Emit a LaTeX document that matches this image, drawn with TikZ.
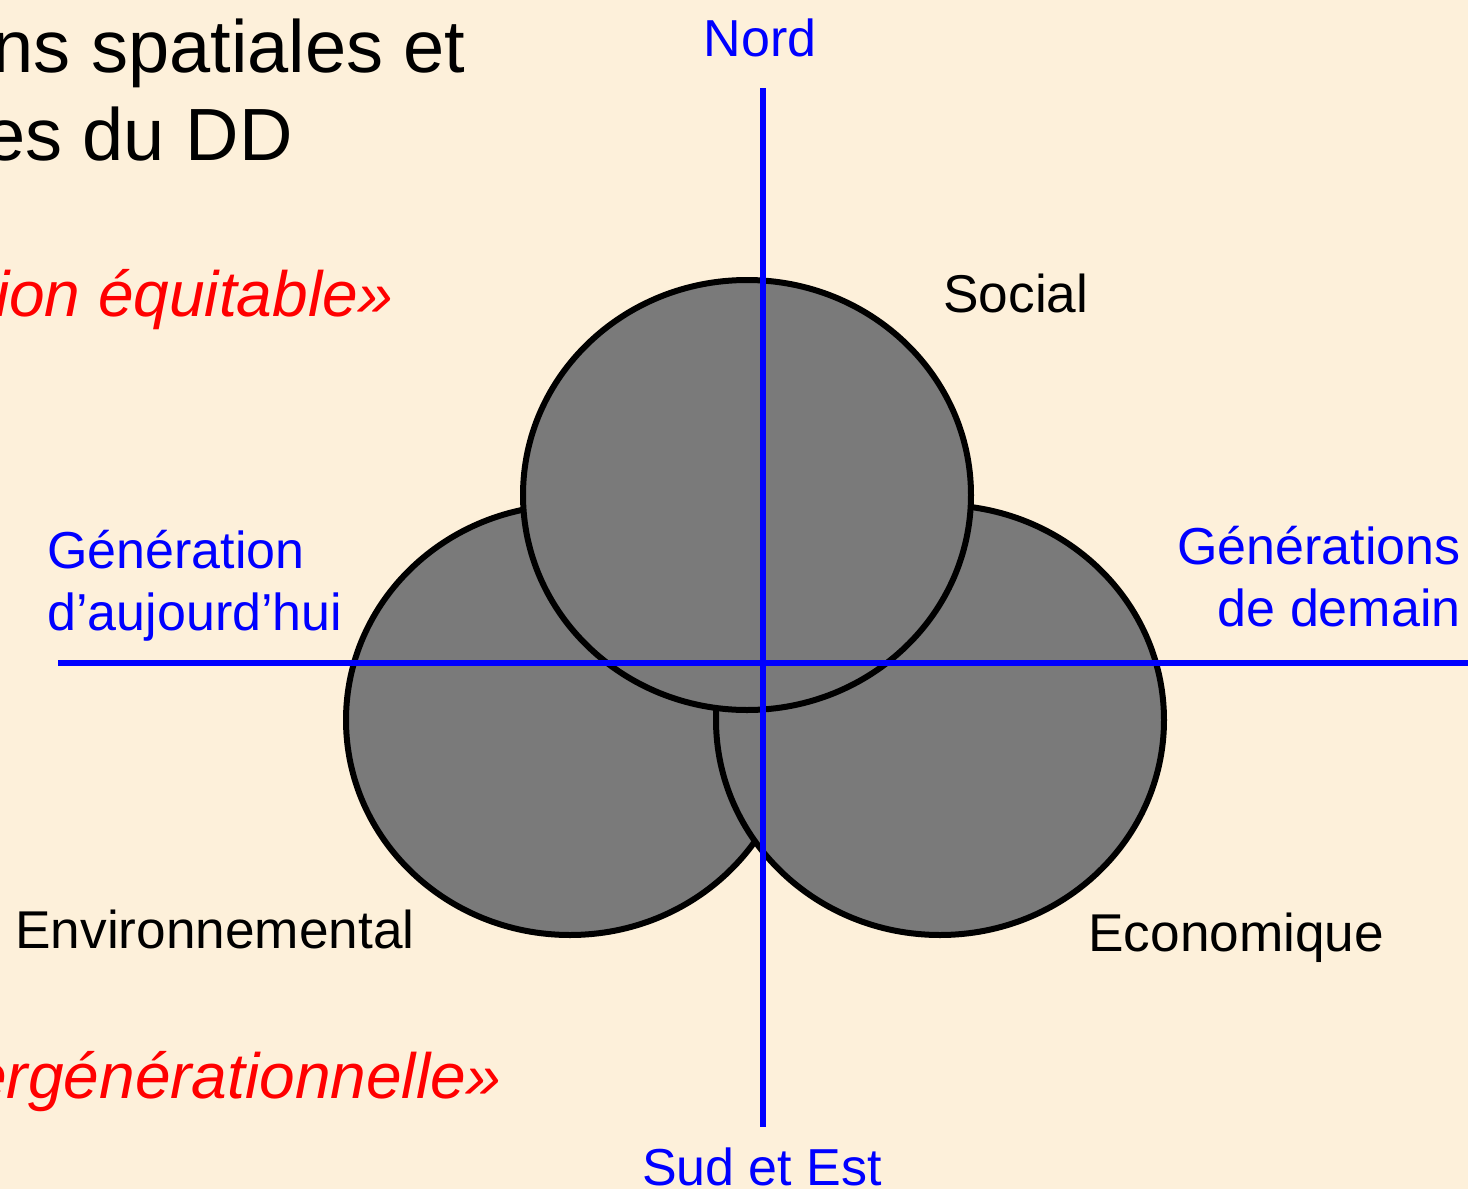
\documentclass[tikz,border=0pt]{standalone}
\usepackage{fontspec}
\setmainfont{Liberation Sans}
\usetikzlibrary{shapes.geometric}
\definecolor{creme}{HTML}{FDF0DA}
\definecolor{axisblue}{HTML}{0000FF}
\definecolor{titlered}{HTML}{FF0000}
\tikzstyle{pillar} = [draw=black, fill=black!52, line width=3pt,
    ellipse, minimum width=224pt, minimum height=215pt, inner sep=0pt]
\tikzstyle{axis} = [draw=axisblue, line width=3pt]
\tikzstyle{axistitle} = [text=axisblue, font=\fontsize{26}{31}\selectfont, inner sep=0pt]
\tikzstyle{pillartitle} = [text=black, font=\fontsize{26.6}{31}\selectfont, inner sep=0pt]
\tikzstyle{headline} = [text=black, font=\fontsize{37}{44}\selectfont, inner sep=0pt, anchor=base east]
\tikzstyle{principle} = [text=titlered, font=\fontsize{32}{38}\selectfont\itshape, inner sep=0pt, anchor=base east]

\begin{document}
\begin{tikzpicture}[x=0.5pt,y=-0.5pt]
                \fill[creme] (0,0) rectangle (1468,1189);
                \useasboundingbox (0,0) rectangle (1468,1189);
                \clip (0,0) rectangle (1468,1189);
                \node[headline] (head1) at (466,72) {ns spatiales et};
                \node[headline] (head2) at (293,160) {es du DD};
                \node[principle] (intra) at (394,316) {ion équitable»};
                \node[principle] (inter) at (502,1098) {ergénérationnelle»};
                \node[pillar] (envir) at (570,720) {};
                \node[pillar] (econ) at (940,720) {};
                \node[pillar] (social) at (747,495) {};
                \coordinate (north) at (763,88);
                \coordinate (south) at (763,1127);
                \coordinate (west) at (58,663);
                \coordinate (east) at (1475,663);
                \draw[axis] (north) -- (south);
                \draw[axis] (west) -- (east);
                \node[axistitle, anchor=base] (nord) at (760,56) {Nord};
                \node[axistitle, anchor=base] (sud) at (762,1185) {Sud et Est};
                \node[axistitle, anchor=base west] (today1) at (47,568) {Génération};
                \node[axistitle, anchor=base west] (today2) at (47,630) {d’aujourd’hui};
                \node[axistitle, anchor=base east] (tomorrow1) at (1461,564) {Générations};
                \node[axistitle, anchor=base east] (tomorrow2) at (1461,626) {de demain};
                \node[pillartitle, anchor=base west] (sociallabel) at (943,312) {Social};
                \node[pillartitle, anchor=base west] (envirlabel) at (15,948) {Environnemental};
                \node[pillartitle, anchor=base west] (econlabel) at (1088,951) {Economique};
            \end{tikzpicture}
\end{document}
